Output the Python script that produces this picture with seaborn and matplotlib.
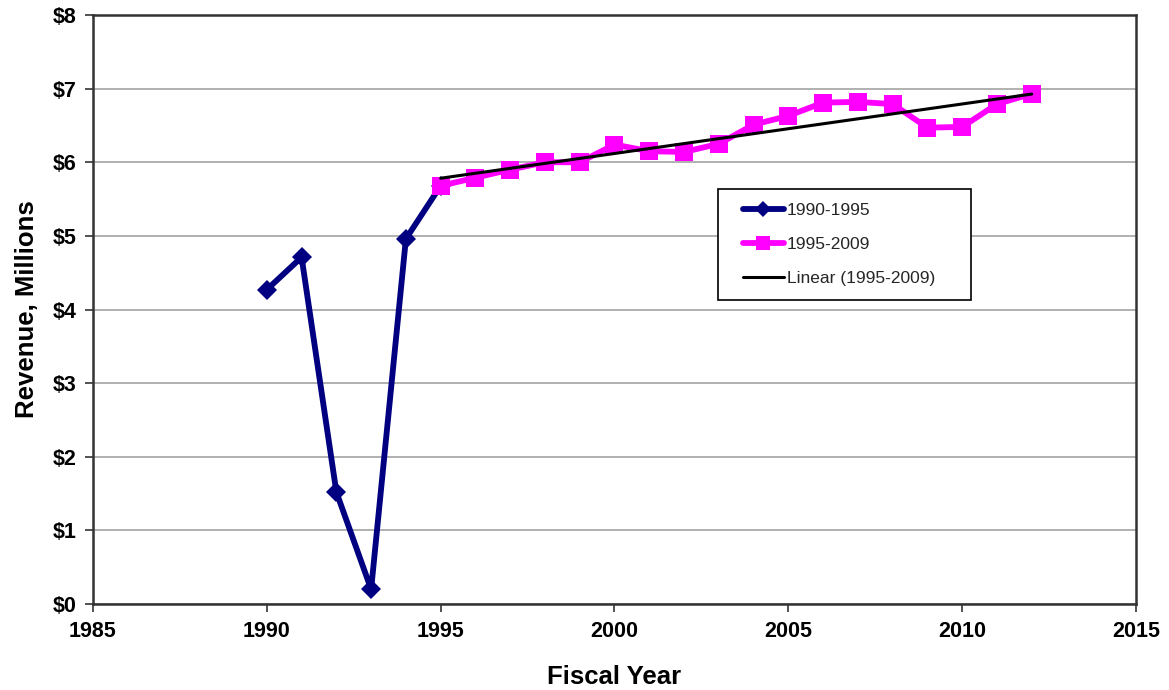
import matplotlib
matplotlib.use("Agg")
import matplotlib.pyplot as plt
from matplotlib.legend_handler import HandlerLine2D
import seaborn as sns
import pandas as pd
import numpy as np

years_early = [1990, 1991, 1992, 1993, 1994, 1995]
rev_early = [4.27, 4.71, 1.52, 0.20, 4.96, 5.68]

years_late = [1995, 1996, 1997, 1998, 1999, 2000, 2001, 2002, 2003, 2004,
              2005, 2006, 2007, 2008, 2009, 2010, 2011, 2012]
rev_late = [5.68, 5.79, 5.90, 6.00, 6.00, 6.24, 6.15, 6.14, 6.25, 6.51,
            6.63, 6.81, 6.82, 6.79, 6.47, 6.48, 6.79, 6.93]

x_ticks = [1985, 1990, 1995, 2000, 2005, 2010, 2015]
y_ticks = [0, 1, 2, 3, 4, 5, 6, 7, 8]
y_tick_labels = ["$0", "$1", "$2", "$3", "$4", "$5", "$6", "$7", "$8"]

sns.set_theme(style="white")
plt.rcParams['font.family'] = ['Liberation Sans', 'DejaVu Sans']

df_early = pd.DataFrame({"year": years_early, "rev": rev_early})
df_late = pd.DataFrame({"year": years_late, "rev": rev_late})

fig = plt.figure(figsize=(11.69, 6.90), dpi=100)
ax = fig.add_axes([93/1169, 86/690, (1136-93)/1169, (604-15)/690])

ax.yaxis.grid(True, color="#b0b0b0", linewidth=1.4, zorder=0)
ax.set_axisbelow(True)

sns.lineplot(data=df_early, x="year", y="rev", ax=ax, color="#000080",
             linewidth=4.2, marker="D", markersize=10.5, markeredgewidth=0,
             label="1990-1995", zorder=3)
sns.lineplot(data=df_late, x="year", y="rev", ax=ax, color="#FF00FF",
             linewidth=4.2, marker="s", markersize=13, markeredgewidth=0,
             label="1995-2009", zorder=3)
sns.regplot(data=df_late, x="year", y="rev", ax=ax, scatter=False, ci=None,
            truncate=True, color="black", line_kws={"linewidth": 2.2, "zorder": 4},
            label="Linear (1995-2009)")

ax.set_xlim(1985, 2015)
ax.set_ylim(0, 8)
ax.set_xticks(x_ticks)
ax.set_yticks(y_ticks)
ax.set_yticklabels(y_tick_labels)
ax.tick_params(axis="both", which="major", direction="out", length=6, width=1.2,
               color="#333333", labelsize=15.5, pad=6, left=True, bottom=True)
for lab in ax.get_xticklabels() + ax.get_yticklabels():
    lab.set_fontweight("bold")
    lab.set_color("black")

for side, sp in ax.spines.items():
    sp.set_visible(True)
    sp.set_color("#333333")
    sp.set_linewidth(1.8)

ax.set_xlabel("Fiscal Year", fontsize=18.5, fontweight="bold", labelpad=17, color="black")
ax.set_ylabel("Revenue, Millions", fontsize=18.5, fontweight="bold", labelpad=10, color="black")

handles, labels = ax.get_legend_handles_labels()
hmap = {h: HandlerLine2D(xpad=0.64, marker_pad=0) for h in handles}
leg = ax.legend(handles, labels, loc="upper left",
                bbox_to_anchor=(0.599, 0.505, 0.2426, 0.2), mode="expand",
                fontsize=12.5, frameon=True, fancybox=False, framealpha=1,
                edgecolor="black", handlelength=2.99, borderpad=0.8,
                labelspacing=1.1, handletextpad=0.17, borderaxespad=0,
                markerscale=0.75, handler_map=hmap)
leg.get_frame().set_linewidth(1.2)

fig.savefig("out.png", dpi=100, facecolor="white")
